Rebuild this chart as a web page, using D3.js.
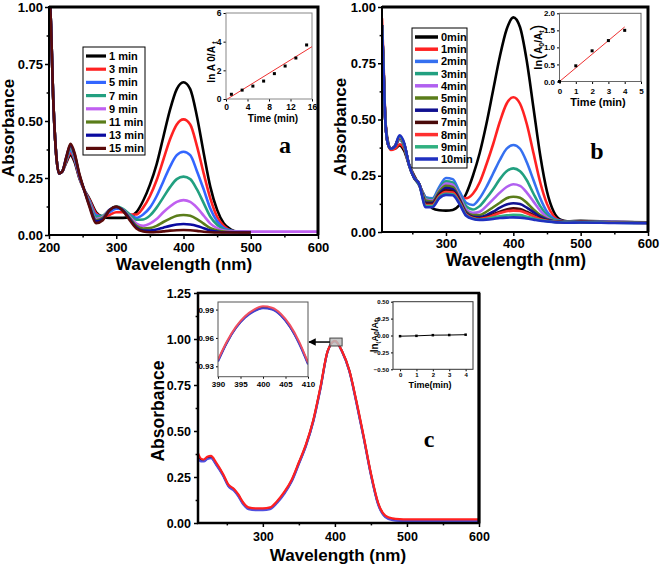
<!DOCTYPE html>
<html>
<head>
<meta charset="utf-8">
<script src="https://cdn.jsdelivr.net/npm/d3@7"></script>
<style>
  body { margin: 0; background: #fff; }
  svg { display: block; }
</style>
</head>
<body>
<svg id="fig" width="661" height="567"></svg>
<script>
const FONT = '"Liberation Sans", Arial, sans-serif';

// ---- panel a: spectra every 2 min ----
const WL_A = [200,203,206,210,215,220,226,232,238,245,252,260,270,280,290,300,310,320,330,340,350,360,370,380,390,400,410,420,430,440,450,460,470,480,500,550,600];
const A_1  = [1.10,0.92,0.62,0.38,0.27,0.28,0.32,0.35,0.32,0.25,0.20,0.16,0.10,0.08,0.075,0.075,0.075,0.08,0.10,0.15,0.22,0.31,0.43,0.55,0.64,0.67,0.64,0.52,0.36,0.21,0.11,0.05,0.025,0.015,0.013,null,null];
const A_3  = [1.10,0.92,0.62,0.38,0.27,0.28,0.325,0.36,0.33,0.255,0.20,0.155,0.095,0.08,0.088,0.10,0.10,0.09,0.09,0.12,0.17,0.24,0.33,0.42,0.485,0.507,0.485,0.39,0.27,0.16,0.08,0.04,0.02,0.015,0.013,null,null];
const A_5  = [1.10,0.92,0.62,0.38,0.27,0.28,0.33,0.37,0.335,0.26,0.20,0.15,0.088,0.082,0.10,0.115,0.11,0.09,0.075,0.09,0.12,0.17,0.235,0.30,0.35,0.365,0.35,0.28,0.20,0.115,0.06,0.03,0.02,0.015,0.013,null,null];
const A_7  = [1.10,0.92,0.62,0.38,0.27,0.28,0.335,0.38,0.34,0.26,0.20,0.145,0.08,0.085,0.11,0.125,0.115,0.09,0.067,0.068,0.085,0.12,0.165,0.21,0.245,0.256,0.245,0.20,0.14,0.08,0.045,0.025,0.017,0.015,0.013,null,null];
const A_9  = [1.10,0.92,0.62,0.38,0.27,0.28,0.34,0.385,0.345,0.26,0.20,0.14,0.07,0.08,0.11,0.122,0.11,0.08,0.05,0.04,0.05,0.07,0.10,0.125,0.145,0.153,0.145,0.12,0.085,0.05,0.03,0.02,0.016,0.015,0.015,0.015,0.015];
const A_11 = [1.10,0.92,0.62,0.38,0.27,0.28,0.34,0.39,0.35,0.265,0.20,0.135,0.065,0.075,0.11,0.122,0.11,0.075,0.04,0.028,0.03,0.04,0.057,0.072,0.084,0.088,0.084,0.07,0.05,0.03,0.02,0.015,0.013,0.012,0.012,null,null];
const A_13 = [1.10,0.92,0.62,0.38,0.27,0.28,0.345,0.395,0.355,0.265,0.20,0.13,0.06,0.07,0.11,0.123,0.108,0.07,0.033,0.02,0.019,0.024,0.032,0.04,0.046,0.048,0.046,0.04,0.03,0.02,0.015,0.012,0.012,0.012,0.012,null,null];
const A_15 = [1.10,0.92,0.62,0.38,0.27,0.28,0.345,0.40,0.36,0.27,0.20,0.125,0.052,0.065,0.108,0.125,0.105,0.065,0.028,0.015,0.012,0.013,0.016,0.019,0.021,0.022,0.021,0.018,0.014,0.012,0.011,0.011,0.011,0.011,0.011,null,null];
const LEGEND_A = ["1 min","3 min","5 min","7 min","9 min","11 min","13 min","15 min"];
const COLORS_A = ["#000000","#ff2222","#3366ff","#22a080","#c060f0","#5a7d1a","#0a0aa0","#5a0a0a"];

// inset a: ln(A0/At) vs time
const T_A = [1,3,5,7,9,11,13,15];
const LN_A = [0.33,0.62,0.90,1.25,1.77,2.30,2.86,3.77];
const FIT_T_A = [0.25,16];
const FIT_Y_A = [0,3.65];

// ---- panel b: spectra every 1 min ----
const WL_B = [205,207,210,214,218,224,231,238,245,252,260,270,280,290,300,310,320,330,340,350,360,370,380,390,400,410,420,430,440,450,460,470,480,500,550,600];
const B_0  = [0.92,0.76,0.50,0.40,0.37,0.37,0.385,0.36,0.30,0.255,0.21,0.15,0.105,0.097,0.095,0.098,0.12,0.17,0.25,0.35,0.48,0.63,0.78,0.90,0.954,0.91,0.76,0.55,0.34,0.18,0.09,0.055,0.048,0.05,0.045,0.043];
const B_1  = [0.95,0.78,0.50,0.39,0.365,0.37,0.39,0.37,0.30,0.25,0.21,0.15,0.14,0.17,0.20,0.19,0.16,0.15,0.17,0.22,0.30,0.39,0.49,0.57,0.599,0.57,0.48,0.35,0.22,0.125,0.07,0.05,0.047,0.048,0.045,0.043];
const B_2  = [0.92,0.75,0.49,0.39,0.37,0.38,0.41,0.38,0.30,0.245,0.21,0.155,0.15,0.20,0.24,0.235,0.18,0.13,0.12,0.15,0.20,0.26,0.32,0.37,0.387,0.37,0.31,0.23,0.15,0.09,0.06,0.05,0.047,0.048,0.045,0.043];
const B_3  = [0.92,0.75,0.49,0.39,0.37,0.38,0.41,0.38,0.30,0.245,0.21,0.15,0.145,0.19,0.225,0.22,0.165,0.115,0.10,0.115,0.15,0.19,0.235,0.27,0.283,0.27,0.23,0.17,0.115,0.075,0.055,0.048,0.046,0.047,0.044,0.042];
const B_4  = [0.92,0.75,0.49,0.39,0.37,0.38,0.415,0.385,0.30,0.245,0.215,0.145,0.14,0.185,0.215,0.21,0.16,0.10,0.085,0.09,0.115,0.145,0.175,0.20,0.212,0.205,0.175,0.135,0.095,0.065,0.05,0.046,0.045,0.046,0.044,0.042];
const B_5  = [0.92,0.75,0.49,0.39,0.37,0.38,0.42,0.385,0.30,0.245,0.215,0.14,0.135,0.18,0.205,0.20,0.15,0.09,0.075,0.075,0.09,0.11,0.13,0.15,0.157,0.152,0.13,0.10,0.075,0.058,0.05,0.046,0.045,0.046,0.043,0.041];
const B_6  = [0.92,0.75,0.49,0.39,0.37,0.38,0.42,0.39,0.30,0.245,0.215,0.13,0.13,0.17,0.195,0.19,0.145,0.085,0.068,0.066,0.075,0.09,0.108,0.122,0.128,0.124,0.108,0.088,0.068,0.055,0.048,0.045,0.044,0.045,0.043,0.041];
const B_7  = [0.92,0.75,0.49,0.39,0.37,0.38,0.42,0.39,0.30,0.245,0.215,0.125,0.125,0.165,0.185,0.18,0.14,0.08,0.064,0.06,0.066,0.078,0.09,0.10,0.105,0.102,0.09,0.075,0.06,0.05,0.046,0.044,0.043,0.044,0.042,0.04];
const B_8  = [0.92,0.75,0.49,0.39,0.37,0.38,0.42,0.39,0.30,0.245,0.215,0.12,0.12,0.16,0.178,0.175,0.135,0.078,0.062,0.058,0.063,0.073,0.084,0.092,0.095,0.093,0.083,0.07,0.057,0.05,0.046,0.044,0.043,0.044,0.042,0.04];
const B_9  = [0.92,0.75,0.49,0.39,0.37,0.38,0.425,0.39,0.30,0.245,0.215,0.115,0.115,0.155,0.17,0.168,0.13,0.075,0.06,0.055,0.058,0.064,0.07,0.074,0.076,0.075,0.068,0.06,0.053,0.048,0.045,0.043,0.042,0.043,0.041,0.04];
const B_10 = [0.92,0.75,0.49,0.39,0.37,0.38,0.43,0.395,0.30,0.245,0.215,0.11,0.11,0.15,0.165,0.163,0.125,0.072,0.058,0.054,0.055,0.058,0.062,0.064,0.065,0.064,0.06,0.055,0.05,0.047,0.044,0.042,0.041,0.042,0.04,0.039];
const LEGEND_B = ["0min","1min","2min","3min","4min","5min","6min","7min","8min","9min","10min"];
const COLORS_B = ["#000000","#ff2222","#3570f0","#22a080","#b060f0","#5a7d1a","#101090","#4a0a0a","#ff3030","#30b080","#2030c0"];

// inset b
const T_B = [0,1,2,3,4];
const LN_B = [0,0.46,0.90,1.20,1.50];
const FIT_T_B = [0,4];
const FIT_Y_B = [0,1.6];

// ---- panel c: control, spectra overlap ----
const WL_C = [210,214,218,223,228,235,245,252,260,266,273,280,290,300,310,320,330,340,350,360,370,380,390,400,410,420,430,440,450,460,470,480,490,500,550,600];
const C_BLACK = [0.36,0.34,0.338,0.352,0.357,0.322,0.26,0.205,0.18,0.15,0.105,0.08,0.075,0.075,0.08,0.115,0.165,0.23,0.325,0.425,0.555,0.735,0.934,0.989,0.932,0.828,0.655,0.465,0.265,0.105,0.036,0.02,0.016,0.015,0.015,0.015];
const C_BLUE  = [0.35,0.335,0.335,0.348,0.352,0.318,0.255,0.20,0.175,0.145,0.10,0.075,0.07,0.07,0.075,0.11,0.16,0.225,0.32,0.42,0.55,0.73,0.933,0.988,0.931,0.825,0.65,0.46,0.26,0.10,0.032,0.015,0.011,0.01,0.01,0.01];
const C_RED   = [0.38,0.35,0.345,0.36,0.365,0.33,0.265,0.21,0.185,0.155,0.11,0.085,0.08,0.08,0.085,0.12,0.17,0.235,0.33,0.43,0.56,0.74,0.935,0.99,0.933,0.83,0.66,0.47,0.27,0.11,0.04,0.025,0.021,0.02,0.02,0.02];
const COLORS_C = ["#000000","#5050e0","#ff2020"];

// zoomed peak
const WL_Z = [390,392,394,396,398,400,402,404,406,408,410];
const Z_BLACK = [0.936,0.9555,0.971,0.982,0.9888,0.992,0.9908,0.984,0.972,0.955,0.933];
const Z_BLUE  = [0.935,0.955,0.9705,0.9812,0.988,0.9914,0.990,0.9835,0.9715,0.954,0.932];
const Z_RED   = [0.937,0.9565,0.972,0.983,0.990,0.9934,0.992,0.9854,0.9735,0.9564,0.934];
const ZOOM_BOX = { x: [393,410], y: [0.962,1.005] };

// inset c
const T_C = [0,1,2,3,4];
const LN_C = [-0.01,-0.005,0.005,0.007,0.012];

const svg = d3.select("#fig");
let clipN = 0;

function addAxes(g, x, y, o) {
  const bx = g.append("g").attr("transform", `translate(0,${y.range()[0]})`)
    .call(d3.axisBottom(x).tickValues(o.xt).tickSize(o.ts).tickPadding(o.tp).tickFormat(o.xf));
  const ly = g.append("g").attr("transform", `translate(${x.range()[0]},0)`)
    .call(d3.axisLeft(y).tickValues(o.yt).tickSize(o.ts).tickPadding(o.tpy == null ? o.tp : o.tpy).tickFormat(o.yf));
  const parts = [bx, ly];
  if (o.xm) parts.push(g.append("g").attr("transform", `translate(0,${y.range()[0]})`)
    .call(d3.axisBottom(x).tickValues(o.xm).tickSize(o.ts * 0.6).tickFormat("")));
  if (o.ym) parts.push(g.append("g").attr("transform", `translate(${x.range()[0]},0)`)
    .call(d3.axisLeft(y).tickValues(o.ym).tickSize(o.ts * 0.6).tickFormat("")));
  parts.forEach(a => {
    a.attr("font-family", FONT).attr("font-size", o.fs).attr("font-weight", "bold");
    a.select(".domain").remove();
    a.selectAll("line").attr("stroke", "#000").attr("stroke-width", o.tw || 1);
    a.selectAll("text").attr("fill", "#000");
  });
}

function frame(g, x, y, sw, color) {
  g.append("rect")
    .attr("x", x.range()[0]).attr("y", y.range()[1])
    .attr("width", x.range()[1] - x.range()[0]).attr("height", y.range()[0] - y.range()[1])
    .attr("fill", "none").attr("stroke", color || "#000").attr("stroke-width", sw);
}

function curves(g, x, y, wl, series, colors, lw) {
  const id = "clip" + (clipN++);
  svg.append("clipPath").attr("id", id).append("rect")
    .attr("x", x.range()[0]).attr("y", y.range()[1])
    .attr("width", x.range()[1] - x.range()[0]).attr("height", y.range()[0] - y.range()[1]);
  const line = d3.line().defined(d => d[1] != null)
    .x(d => x(d[0])).y(d => y(d[1])).curve(d3.curveMonotoneX);
  series.forEach((s, i) => {
    g.append("path").attr("clip-path", `url(#${id})`)
      .attr("d", line(wl.map((w, j) => [w, s[j]])))
      .attr("fill", "none").attr("stroke", colors[i]).attr("stroke-width", lw)
      .attr("stroke-linejoin", "round");
  });
}

function text(g, x, y, str, size, opts = {}) {
  const t = g.append("text").attr("x", x).attr("y", y).text(str)
    .attr("font-family", opts.serif ? '"Liberation Serif", "Times New Roman", serif' : FONT)
    .attr("font-size", size).attr("font-weight", "bold")
    .attr("text-anchor", opts.anchor || "middle").attr("fill", "#000");
  if (opts.rotate) t.attr("transform", `rotate(-90,${x},${y})`);
  return t;
}

function legend(g, x0, y0, w, h, labels, colors, step, lineLen, lw) {
  g.append("rect").attr("x", x0).attr("y", y0).attr("width", w).attr("height", h)
    .attr("fill", "#fff").attr("stroke", "#000").attr("stroke-width", 1);
  labels.forEach((lab, i) => {
    const yy = y0 + 9 + i * step;
    g.append("line").attr("x1", x0 + 3).attr("x2", x0 + 3 + lineLen).attr("y1", yy).attr("y2", yy)
      .attr("stroke", colors[i]).attr("stroke-width", lw);
    text(g, x0 + 6 + lineLen, yy + 4, lab, 11, { anchor: "start" });
  });
}

function scatterInset(g, x, y, t, v, sz) {
  g.selectAll(null).data(t).enter().append("rect")
    .attr("x", (d) => x(d) - sz / 2).attr("y", (d, i) => y(v[i]) - sz / 2)
    .attr("width", sz).attr("height", sz).attr("fill", "#000");
}

// ================= panel a =================
{
  const g = svg.append("g");
  const x = d3.scaleLinear().domain([200, 600]).range([49, 318]);
  const y = d3.scaleLinear().domain([0, 1]).range([235, 7]);
  curves(g, x, y, WL_A, [A_1, A_3, A_5, A_7, A_9, A_11, A_13, A_15], COLORS_A, 2.6);
  addAxes(g, x, y, {
    xt: [200, 300, 400, 500, 600], xm: [250, 350, 450, 550], xf: d3.format("d"),
    yt: [0, 0.25, 0.5, 0.75, 1], ym: [0.125, 0.375, 0.625, 0.875], yf: d3.format(".2f"),
    ts: 4, tp: 4, tpy: 2, fs: 13, tw: 1.5
  });
  frame(g, x, y, 2);
  g.append("path").attr("d", `M${x.range()[0]},${y.range()[1]}H${x.range()[1]}V${y.range()[0]}`)
    .attr("fill", "none").attr("stroke", "#000").attr("stroke-width", 3);
  text(g, 8.5, 128, "Absorbance", 17, { rotate: true }).attr("dy", "0.35em");
  text(g, 184, 270, "Wavelength (nm)", 17);
  legend(g, 83, 47, 62, 108, LEGEND_A, COLORS_A, 13.2, 20, 3.2);
  text(g, 285, 153, "a", 24, { serif: true });

  // inset
  const xi = d3.scaleLinear().domain([0, 16]).range([226, 312]);
  const yi = d3.scaleLinear().domain([0, 6]).range([99, 13]);
  g.append("rect").attr("x", 226).attr("y", 13).attr("width", 86).attr("height", 86).attr("fill", "#fff");
  addAxes(g, xi, yi, { xt: [0, 4, 8, 12, 16], xf: d3.format("d"), yt: [0, 2, 4, 6], yf: d3.format("d"),
    ts: 2.5, tp: 2, fs: 8.5, tw: 1 });
  frame(g, xi, yi, 1, "#888");
  g.append("line").attr("x1", xi(FIT_T_A[0])).attr("y1", yi(FIT_Y_A[0]))
    .attr("x2", xi(FIT_T_A[1])).attr("y2", yi(FIT_Y_A[1])).attr("stroke", "#ee3030").attr("stroke-width", 1);
  scatterInset(g, xi, yi, T_A, LN_A, 3);
  text(g, 273, 122, "Time (min)", 10);
  const yl = text(g, 211, 62, "ln A ", 10, { rotate: true }).attr("dy", "0.35em");
  yl.append("tspan").text("0").attr("font-size", 10);
  yl.append("tspan").text("/A ");
  yl.append("tspan").text("t").attr("font-size", 7).attr("dy", 2);
}

// ================= panel b =================
{
  const g = svg.append("g");
  const x = d3.scaleLinear().domain([205, 600]).range([382, 648]);
  const y = d3.scaleLinear().domain([0, 1]).range([232, 7]);
  curves(g, x, y, WL_B, [B_0, B_1, B_2, B_3, B_4, B_5, B_6, B_7, B_8, B_9, B_10], COLORS_B, 2.6);
  addAxes(g, x, y, {
    xt: [300, 400, 500, 600], xm: [250, 350, 450, 550], xf: d3.format("d"),
    yt: [0, 0.25, 0.5, 0.75, 1], ym: [0.125, 0.375, 0.625, 0.875], yf: d3.format(".2f"),
    ts: 4, tp: 3, tpy: 2, fs: 13, tw: 1.5
  });
  frame(g, x, y, 2);
  g.append("path").attr("d", `M${x.range()[0]},${y.range()[1]}H${x.range()[1]}V${y.range()[0]}`)
    .attr("fill", "none").attr("stroke", "#000").attr("stroke-width", 3);
  text(g, 340, 127, "Absorbance", 17, { rotate: true }).attr("dy", "0.35em");
  text(g, 516, 266, "Wavelength (nm)", 17.5);
  legend(g, 412, 28, 55, 140, LEGEND_B, COLORS_B, 12.2, 23, 3.5);
  text(g, 597, 159, "b", 24, { serif: true });

  const xi = d3.scaleLinear().domain([0, 5]).range([559.5, 641]);
  const yi = d3.scaleLinear().domain([0, 2]).range([81.5, 13.3]);
  g.append("rect").attr("x", 559.5).attr("y", 13.3).attr("width", 81.5).attr("height", 68.2).attr("fill", "#fff");
  addAxes(g, xi, yi, { xt: [0, 1, 2, 3, 4, 5], xf: d3.format("d"), yt: [0, 0.5, 1, 1.5, 2], yf: d3.format(".1f"),
    ts: 2.5, tp: 4, tpy: 2, fs: 8, tw: 1 });
  frame(g, xi, yi, 1, "#666");
  g.append("line").attr("x1", xi(FIT_T_B[0])).attr("y1", yi(FIT_Y_B[0]))
    .attr("x2", xi(FIT_T_B[1])).attr("y2", yi(FIT_Y_B[1])).attr("stroke", "#ee3030").attr("stroke-width", 1);
  scatterInset(g, xi, yi, T_B, LN_B, 3);
  text(g, 598, 106, "Time (min)", 11);
  const yl = text(g, 538, 47, "ln", 11, { rotate: true }).attr("dy", "0.35em");
  yl.append("tspan").text("(").attr("font-size", 18).attr("font-weight", "normal").attr("dy", 1);
  yl.append("tspan").text("A").attr("font-size", 10).attr("dy", -1);
  yl.append("tspan").text("0").attr("font-size", 7).attr("dy", 2);
  yl.append("tspan").text("/A").attr("font-size", 10).attr("dy", -2);
  yl.append("tspan").text("t").attr("font-size", 7).attr("dy", 2);
  yl.append("tspan").text(")").attr("font-size", 18).attr("font-weight", "normal").attr("dy", -1);
}

// ================= panel c =================
{
  const g = svg.append("g");
  const x = d3.scaleLinear().domain([210, 600]).range([198, 479]);
  const y = d3.scaleLinear().domain([0, 1.25]).range([523, 293]);
  curves(g, x, y, WL_C, [C_BLACK, C_BLUE, C_RED], COLORS_C, 2.2);
  addAxes(g, x, y, {
    xt: [300, 400, 500, 600], xm: [250, 350, 450, 550], xf: d3.format("d"),
    yt: [0, 0.25, 0.5, 0.75, 1, 1.25], ym: [0.125, 0.375, 0.625, 0.875, 1.125], yf: d3.format(".2f"),
    ts: 4, tp: 5, tpy: 3, fs: 12.5, tw: 1.5
  });
  frame(g, x, y, 2.5);
  g.append("line").attr("x1", x.range()[1]).attr("x2", x.range()[1]).attr("y1", y.range()[1]).attr("y2", y.range()[0])
    .attr("stroke", "#000").attr("stroke-width", 3);
  text(g, 158, 411, "Absorbance", 17.5, { rotate: true }).attr("dy", "0.35em");
  text(g, 338, 561, "Wavelength (nm)", 17);
  text(g, 429, 447, "c", 24, { serif: true });

  // marker box on the peak and arrow to the zoom inset
  g.append("rect").attr("x", x(ZOOM_BOX.x[0])).attr("y", y(ZOOM_BOX.y[1]))
    .attr("width", x(ZOOM_BOX.x[1]) - x(ZOOM_BOX.x[0])).attr("height", y(ZOOM_BOX.y[0]) - y(ZOOM_BOX.y[1]))
    .attr("fill", "#bdbdbd").attr("fill-opacity", 0.85).attr("stroke", "#444").attr("stroke-width", 1);
  svg.append("defs").append("marker").attr("id", "arr").attr("viewBox", "0 0 10 10")
    .attr("refX", 9).attr("refY", 5).attr("markerWidth", 5).attr("markerHeight", 5).attr("orient", "auto")
    .append("path").attr("d", "M0,0L10,5L0,10Z").attr("fill", "#000");

  // zoom inset
  const xz = d3.scaleLinear().domain([390, 410]).range([218, 308]);
  const yz = d3.scaleLinear().domain([0.919, 0.998]).range([376.7, 302]);
  g.append("line").attr("x1", x(ZOOM_BOX.x[0])).attr("x2", xz.range()[1] + 1)
    .attr("y1", y((ZOOM_BOX.y[0] + ZOOM_BOX.y[1]) / 2)).attr("y2", y((ZOOM_BOX.y[0] + ZOOM_BOX.y[1]) / 2))
    .attr("stroke", "#000").attr("stroke-width", 1.5).attr("marker-end", "url(#arr)");
  g.append("rect").attr("x", 218).attr("y", 302).attr("width", 90).attr("height", 74.7).attr("fill", "#fff");
  curves(g, xz, yz, WL_Z, [Z_BLACK, Z_BLUE, Z_RED], ["#222", "#4040d0", "#f05060"], 2);
  addAxes(g, xz, yz, { xt: [390, 395, 400, 405, 410], xf: d3.format("d"), yt: [0.93, 0.96, 0.99], yf: d3.format(".2f"),
    ts: 2, tp: 3, tpy: 2, fs: 8, tw: 1 });
  frame(g, xz, yz, 1, "#555");

  // ln inset
  const xl = d3.scaleLinear().domain([-0.43, 4.45]).range([393, 473]);
  const yl = d3.scaleLinear().domain([-0.5, 0.5]).range([369.3, 301.7]);
  addAxes(g, xl, yl, { xt: [0, 1, 2, 3, 4], xf: d3.format("d"), yt: [-0.5, -0.25, 0, 0.25, 0.5], yf: d3.format(".2f"),
    ts: 2, tp: 1, tpy: 2, fs: 6, tw: 1 });
  frame(g, xl, yl, 1, "#333");
  g.append("path").attr("d", d3.line().x(d => xl(d)).y((d, i) => yl(LN_C[i]))(T_C))
    .attr("fill", "none").attr("stroke", "#000").attr("stroke-width", 1);
  scatterInset(g, xl, yl, T_C, LN_C, 2.5);
  text(g, 430, 388, "Time(min)", 9);
  const yt = text(g, 374, 335, "ln", 10, { rotate: true }).attr("dy", "0.35em");
  yt.append("tspan").text("(").attr("font-size", 6).attr("dy", 2);
  yt.append("tspan").text("A").attr("font-size", 9).attr("dy", -2);
  yt.append("tspan").text("0").attr("font-size", 7).attr("dy", 1);
  yt.append("tspan").text("/A").attr("font-size", 9).attr("dy", -1);
  yt.append("tspan").text("t").attr("font-size", 7).attr("dy", 1);
  yt.append("tspan").text(")").attr("font-size", 6);
}
</script>
</body>
</html>
